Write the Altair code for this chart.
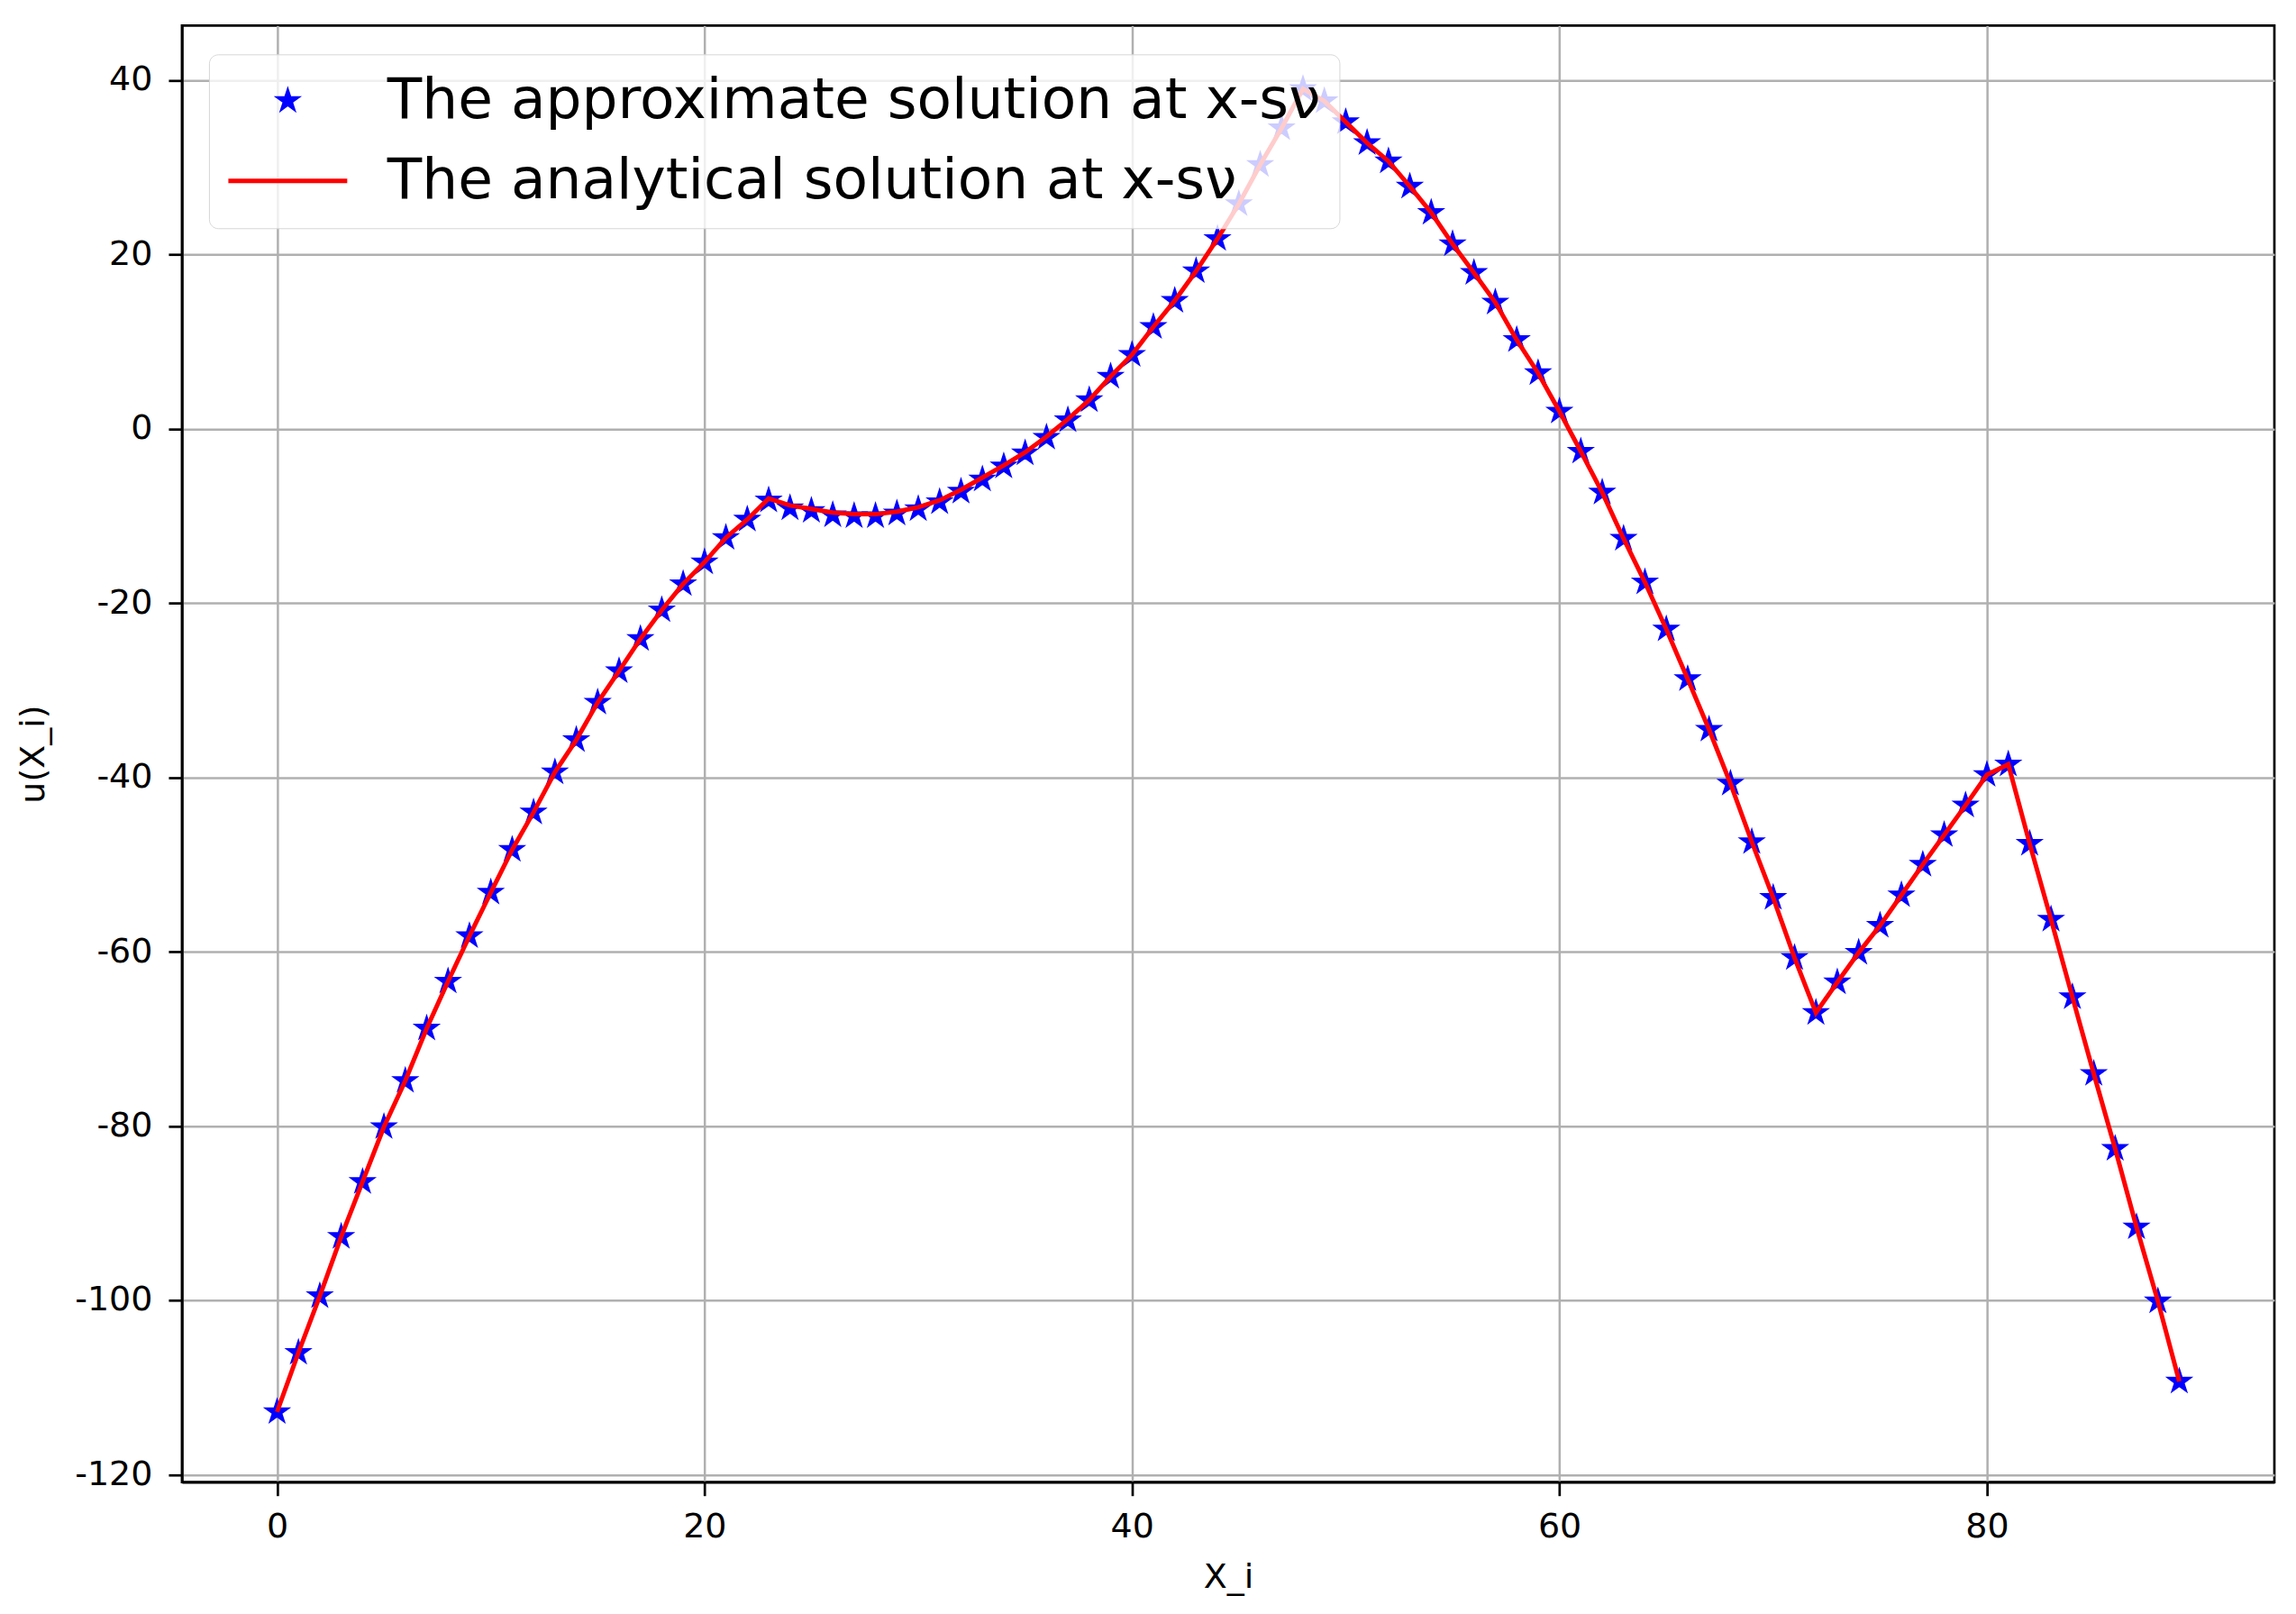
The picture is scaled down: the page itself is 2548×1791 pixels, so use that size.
import altair as alt
import pandas as pd

# ---- data ----
x_i = list(range(90))
u_approx = [
    -112.8, -106.0, -99.5, -92.7, -86.4, -80.1, -74.8, -68.8, -63.4, -58.2,
    -53.2, -48.3, -44.0, -39.4, -35.7, -31.4, -27.8, -24.1, -20.8, -17.8,
    -15.3, -12.5, -10.4, -8.2, -9.1, -9.4, -9.9, -10.0, -10.0, -9.7,
    -9.2, -8.4, -7.2, -5.8, -4.3, -2.8, -1.0, 1.0, 3.3, 6.0,
    8.5, 11.7, 14.7, 18.1, 21.8, 25.8, 30.3, 34.5, 39.0, 37.6,
    35.2, 32.8, 30.7, 27.8, 24.8, 21.2, 17.9, 14.5, 10.2, 6.4,
    2.0, -2.6, -7.3, -12.6, -17.6, -23.0, -28.7, -34.5, -40.7, -47.4,
    -53.8, -60.7, -67.0, -63.5, -60.1, -57.0, -53.5, -50.0, -46.6, -43.2,
    -39.7, -38.5, -47.6, -56.3, -65.2, -74.0, -82.6, -91.6, -100.1, -109.3,
]
u_exact = [
    -112.8, -106.0, -99.5, -92.7, -86.4, -80.1, -74.8, -68.8, -63.4, -58.2,
    -53.2, -48.3, -44.0, -39.4, -35.7, -31.4, -27.8, -24.1, -20.8, -17.8,
    -15.3, -12.5, -10.4, -8.0, -8.8, -9.2, -9.6, -9.8, -9.8, -9.5,
    -9.0, -8.2, -7.0, -5.6, -4.2, -2.7, -0.9, 1.1, 3.3, 6.0,
    8.5, 11.7, 14.7, 18.1, 21.8, 25.8, 30.3, 34.5, 39.0, 37.6,
    35.2, 32.8, 30.7, 27.8, 24.8, 21.2, 17.9, 14.5, 10.2, 6.4,
    2.0, -2.6, -7.3, -12.6, -17.6, -23.0, -28.7, -34.5, -40.7, -47.4,
    -53.8, -60.7, -67.0, -63.5, -60.1, -57.0, -53.5, -50.0, -46.6, -43.2,
    -39.7, -38.5, -47.6, -56.3, -65.2, -74.0, -82.6, -91.6, -100.1, -109.3,
]
series_labels = ["The approximate solution at x-sν", "The analytical solution at x-sν"]
x_ticks = [0, 20, 40, 60, 80]
y_ticks = [-120, -100, -80, -60, -40, -20, 0, 20, 40]

approx_df = pd.DataFrame({"x": x_i, "u": u_approx, "series": series_labels[0]})
exact_df = pd.DataFrame({"x": x_i, "u": u_exact, "series": series_labels[1]})

FONT = "DejaVu Sans"
STAR = ("M0,-1L0.2245,-0.309L0.951,-0.309L0.363,0.118L0.588,0.809L0,0.382"
        "L-0.588,0.809L-0.363,0.118L-0.951,-0.309L-0.2245,-0.309Z")
HANDLE = "M-5.3,0L5.3,0"

x_scale = alt.Scale(domain=[-4.45, 93.45], nice=False, zero=False)
y_scale = alt.Scale(domain=[-120.86, 46.27], nice=False, zero=False)
color_scale = alt.Scale(domain=series_labels, range=["#0000ff", "#ff0000"])
shape_scale = alt.Scale(domain=series_labels, range=[STAR, HANDLE])
sw_scale = alt.Scale(type="ordinal", domain=series_labels, range=[2.5, 5])

x_axis = alt.Axis(values=x_ticks, title="X_i", labelExpr="'' + datum.value",
                  labelPadding=16, titlePadding=18)
y_axis = alt.Axis(values=y_ticks, title="u(X_i)", labelExpr="'' + datum.value",
                  labelPadding=18, titlePadding=26)

legend = alt.Legend(
    orient="none", legendX=30, legendY=32,
    labelFontSize=63, labelFont=FONT, labelColor="black", labelLimit=3000,
    labelOffset=79, symbolOffset=36, symbolSize=620, padding=20,
    rowPadding=25, cornerRadius=10, symbolFillColor="#0000ff",
    symbolOpacity=1,
    fillColor="rgba(255,255,255,0.8)", strokeColor="#d6d6d6",
)

points = alt.Chart(approx_df).mark_point(filled=False, fill="#0000ff", size=620,
                                         opacity=1).encode(
    x=alt.X("x:Q", scale=x_scale, axis=x_axis),
    y=alt.Y("u:Q", scale=y_scale, axis=y_axis),
    color=alt.Color("series:N", scale=color_scale, legend=legend, title=None),
    shape=alt.Shape("series:N", scale=shape_scale, legend=legend, title=None),
    strokeWidth=alt.StrokeWidth("series:O", scale=sw_scale, legend=legend, title=None),
)

line = alt.Chart(exact_df).mark_line().encode(
    x=alt.X("x:Q", scale=x_scale, axis=x_axis),
    y=alt.Y("u:Q", scale=y_scale, axis=y_axis),
    color=alt.Color("series:N", scale=color_scale, legend=legend, title=None),
    strokeWidth=alt.StrokeWidth("series:O", scale=sw_scale, legend=legend, title=None),
)

chart = alt.layer(points, line).properties(
    width=2323, height=1617,
    autosize=alt.AutoSizeParams(type="none"),
    padding={"left": 194, "top": 20, "right": 16, "bottom": 130},
).configure_view(
    stroke="black", strokeWidth=2.7,
).configure_axis(
    labelFont=FONT, labelFontSize=38, labelColor="black",
    titleFont=FONT, titleFontSize=38, titleColor="black", titleFontWeight="normal",
    grid=True, gridColor="#b0b0b0", gridWidth=2.5,
    domain=True, domainColor="black", domainWidth=2.7,
    ticks=True, tickColor="black", tickSize=15, tickWidth=2.7,
)

chart.save("out.html", embed_options={"renderer": "svg", "actions": False})
